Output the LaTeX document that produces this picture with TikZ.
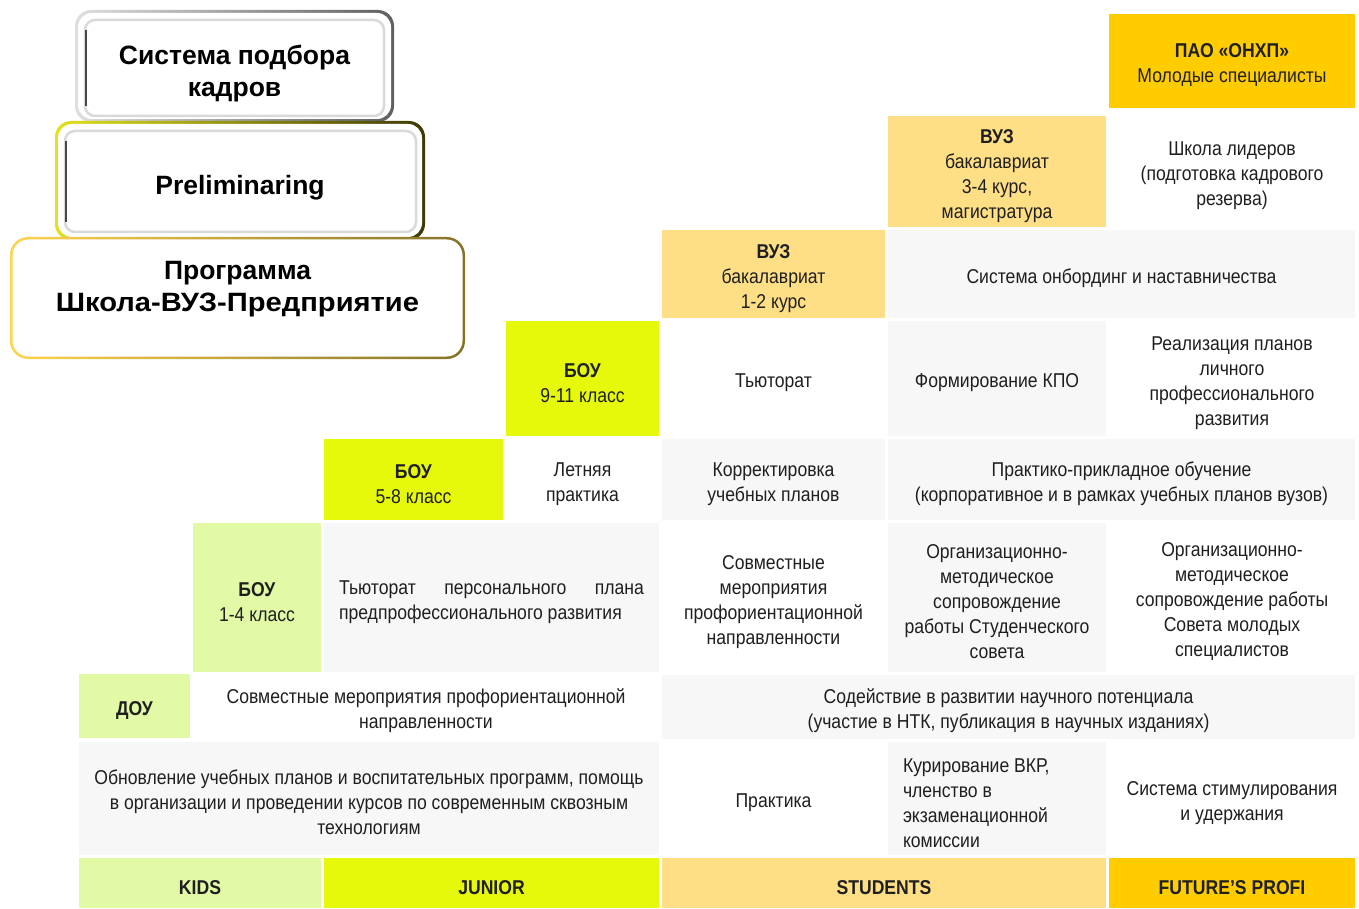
\documentclass[tikz,border=0pt]{standalone}
\usepackage{graphicx}
\usepackage{fontspec}
\setmainfont{Liberation Sans}[FakeStretch=0.88]
\newfontfamily\headfont{Liberation Sans}

\definecolor{kidsgreen}{HTML}{E2F9A6}
\definecolor{juniorlime}{HTML}{E6F90B}
\definecolor{studyellow}{HTML}{FFDF85}
\definecolor{profigold}{HTML}{FFCC00}
\definecolor{cellgray}{HTML}{F7F7F7}
\definecolor{txt}{HTML}{1F1F1F}
\definecolor{hdryellow}{HTML}{E2E21E}
\definecolor{hdrolive}{HTML}{3D3A05}
\definecolor{hdrgold}{HTML}{FFD54F}
\definecolor{hdrbrown}{HTML}{857329}

% strut that pushes cell text a little lower
\newcommand\lift{\rule{0pt}{22.6pt}}

\begin{document}
\begin{tikzpicture}[
    x=1pt, y=-1pt,
    cell/.style 2 args={inner sep=0pt, outer sep=0pt, align=center,
                        minimum width=#1, minimum height=#2, text=txt,
                        font=\fontsize{20}{25}\selectfont,
                        execute at begin node={\lift}},
    hdr/.style={align=center, inner sep=0pt, text=black,
                font=\headfont\bfseries\fontsize{26.5}{32}\selectfont},
    bevel/.style={draw=gray!30, line width=2.5pt, rounded corners=10pt}
]
\useasboundingbox (0,0) rectangle (1359,909);

% ---------- header boxes ----------
\shade[rounded corners=16pt, left color=gray!25, right color=gray!75!black]
      (75,10) rectangle (394,122);
\fill[white, rounded corners=14pt] (78,13) rectangle (391,119);
\draw[bevel] (85,20) rectangle (384,116);
\draw[gray!55!black, line width=1.4pt] (86,30) -- (86,106);
\node[hdr] (hire) at (234.5,74) {Система подбора\\кадров};

\shade[rounded corners=16pt, left color=hdryellow, right color=hdrolive]
      (55,121) rectangle (425,240);
\fill[white, rounded corners=14pt] (58,124) rectangle (422,237);
\draw[bevel] (65,131) rectangle (416,232);
\draw[gray!55!black, line width=1.4pt] (66,141) -- (66,222);
\node[hdr] (prelim) at (240,188) {Preliminaring};

\shade[rounded corners=18pt, left color=hdrgold, right color=hdrbrown]
      (10,237) rectangle (465,359);
\fill[white, rounded corners=16pt] (12.5,239.5) rectangle (462.5,356.5);
\node[hdr] (program) at (237.5,289)
  {Программа\\\scalebox{1.1}[1]{Школа-ВУЗ-Предприятие}};

% ---------- FUTURE'S PROFI column ----------
\node[cell={246}{94}, fill=profigold] (pao) at (1232,61)
  {\lift\textbf{ПАО «ОНХП»}\\Молодые специалисты};
\node[cell={246}{111}, fill=white] (leaders) at (1232,171.5)
  {\lift Школа лидеров\\(подготовка кадрового\\резерва)};

% ---------- STUDENTS ----------
\node[cell={218}{111}, fill=studyellow] (vuz34) at (997,171.5)
  {\lift\textbf{ВУЗ}\\бакалавриат\\3-4 курс,\\магистратура};
\node[cell={223}{88}, fill=studyellow] (vuz12) at (773.5,274)
  {\lift\textbf{ВУЗ}\\бакалавриат\\1-2 курс};
\node[cell={467}{88}, fill=cellgray] (onboard) at (1121.5,274)
  {Система онбординг и наставничества};

% ---------- 9-11 row ----------
\node[cell={153}{115}, fill=juniorlime] (boy911) at (582.5,378.5)
  {\lift\textbf{БОУ}\\9-11 класс};
\node[cell={223}{115}, fill=white] (tutor) at (773.5,378.5) {Тьюторат};
\node[cell={218}{115}, fill=cellgray] (kpo) at (997,378.5) {Формирование КПО};
\node[cell={246}{115}, fill=white] (plans) at (1232,378.5)
  {\lift Реализация планов\\личного\\профессионального\\развития};

% ---------- 5-8 row ----------
\node[cell={179}{81}, fill=juniorlime] (boy58) at (413.5,479.5)
  {\lift\textbf{БОУ}\\5-8 класс};
\node[cell={153}{81}, fill=white] (summer) at (582.5,479.5) {\lift Летняя\\практика};
\node[cell={223}{81}, fill=cellgray] (correct) at (773.5,479.5)
  {\lift Корректировка\\учебных планов};
\node[cell={467}{81}, fill=cellgray] (applied) at (1121.5,479.5)
  {\lift Практико-прикладное обучение\\(корпоративное и в рамках учебных планов вузов)};

% ---------- 1-4 row ----------
\node[cell={128}{149}, fill=kidsgreen] (boy14) at (257,597.5)
  {\lift\textbf{БОУ}\\1-4 класс};
\node[cell={335}{149}, fill=cellgray, text width=305pt, align=flush left] (ptutor) at (491.5,597.5)
  {Тьюторат\hfill персонального\hfill плана\\предпрофессионального развития};
\node[cell={223}{149}, fill=white] (joint) at (773.5,597.5)
  {\lift Совместные\\мероприятия\\профориентационной\\направленности};
\node[cell={218}{149}, fill=cellgray] (orgst) at (997,597.5)
  {\lift Организационно-\\методическое\\сопровождение\\работы Студенческого\\совета};
\node[cell={246}{149}, fill=white] (orgyoung) at (1232,597.5)
  {\lift Организационно-\\методическое\\сопровождение работы\\Совета молодых\\специалистов};

% ---------- ДОУ row ----------
\node[cell={111}{64}, fill=kidsgreen] (dou) at (134.5,706) {\textbf{ДОУ}};
\node[cell={466}{64}, fill=white] (jointdou) at (426,707)
  {\lift Совместные мероприятия профориентационной\\направленности};
\node[cell={693}{64}, fill=cellgray] (science) at (1008.5,707)
  {\lift Содействие в развитии научного потенциала\\(участие в НТК, публикация в научных изданиях)};

% ---------- common row ----------
\node[cell={580}{113}, fill=cellgray] (update) at (369,798.5)
  {\lift Обновление учебных планов и воспитательных программ, помощь\\в организации и проведении курсов по современным сквозным\\технологиям};
\node[cell={223}{113}, fill=white] (practice) at (773.5,798.5) {Практика};
\node[cell={218}{113}, fill=cellgray, text width=188pt, align=flush left] (vkr) at (997,798.5)
  {Курирование ВКР,\\членство в\\экзаменационной\\комиссии};
\node[cell={246}{113}, fill=white] (stim) at (1232,798.5)
  {\lift Система стимулирования\\и удержания};

% ---------- stages ----------
\node[cell={242}{50}, fill=kidsgreen] (kids) at (200,883) {\textbf{KIDS}};
\node[cell={335}{50}, fill=juniorlime] (junior) at (491.5,883) {\textbf{JUNIOR}};
\node[cell={444}{50}, fill=studyellow] (students) at (884,883) {\textbf{STUDENTS}};
\node[cell={246}{50}, fill=profigold] (profi) at (1232,883) {\textbf{FUTURE'S PROFI}};

\end{tikzpicture}
\end{document}
